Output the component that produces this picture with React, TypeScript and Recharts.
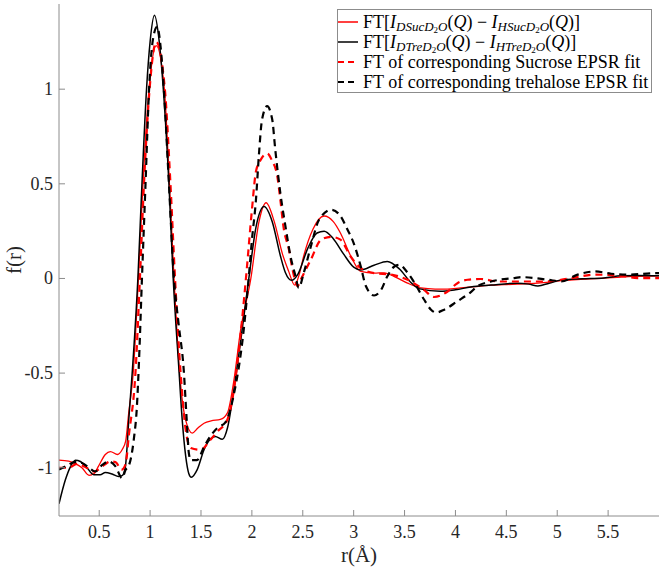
import { LineChart, Line, XAxis, YAxis, Legend } from "recharts";

// FT of the measured difference functions and the EPSR fits, f(r) against r (Å)
const sucExpR = [0.105, 0.2, 0.27, 0.33, 0.4, 0.45, 0.495, 0.56, 0.61, 0.68, 0.725, 0.76, 0.79, 0.834, 0.885, 0.93, 0.99, 1.06, 1.14, 1.19, 1.235, 1.29, 1.35, 1.414, 1.47, 1.53, 1.6, 1.69, 1.76, 1.82, 1.89, 1.99, 2.07, 2.14, 2.22, 2.3, 2.36, 2.42, 2.47, 2.51, 2.6, 2.71, 2.8, 2.87, 2.97, 3.07, 3.2, 3.3, 3.4, 3.53, 3.66, 3.8, 3.92, 4.05, 4.25, 4.48, 4.81, 5.04, 5.46, 5.7, 6.0];
const sucExpF = [-0.96, -0.965, -0.98, -1.0, -1.04, -1.03, -0.99, -0.93, -0.915, -0.93, -0.905, -0.86, -0.71, -0.5, 0.0, 0.5, 1.0, 1.23, 1.0, 0.5, 0.0, -0.5, -0.75, -0.817, -0.79, -0.765, -0.752, -0.745, -0.71, -0.55, -0.27, 0.0, 0.3, 0.4, 0.3, 0.13, 0.04, -0.035, 0.03, 0.12, 0.26, 0.33, 0.3, 0.24, 0.12, 0.037, 0.028, 0.03, 0.01, -0.025, -0.05, -0.056, -0.056, -0.05, -0.04, -0.033, -0.025, -0.012, 0.002, 0.01, 0.014];

const treExpR = [0.105, 0.167, 0.217, 0.266, 0.315, 0.38, 0.446, 0.51, 0.56, 0.627, 0.69, 0.725, 0.757, 0.774, 0.79, 0.824, 0.88, 0.92, 0.965, 1.0, 1.043, 1.09, 1.13, 1.185, 1.227, 1.283, 1.316, 1.35, 1.38, 1.405, 1.463, 1.53, 1.59, 1.64, 1.71, 1.76, 1.82, 1.89, 1.97, 2.04, 2.12, 2.2, 2.28, 2.33, 2.39, 2.45, 2.55, 2.64, 2.71, 2.8, 2.9, 3.0, 3.07, 3.2, 3.33, 3.45, 3.56, 3.65, 3.85, 4.0, 4.15, 4.35, 4.61, 4.72, 4.81, 4.92, 5.04, 5.25, 5.46, 5.63, 5.8, 6.0];
const treExpF = [-1.19, -1.065, -0.995, -0.96, -0.967, -1.0, -1.037, -1.037, -1.025, -1.033, -1.046, -1.042, -0.995, -0.89, -0.75, -0.5, 0.0, 0.5, 1.0, 1.25, 1.39, 1.25, 1.0, 0.5, 0.0, -0.48, -0.75, -0.94, -1.03, -1.05, -1.01, -0.905, -0.85, -0.835, -0.85, -0.79, -0.6, -0.33, 0.0, 0.27, 0.38, 0.3, 0.12, 0.03, -0.01, 0.02, 0.16, 0.24, 0.25, 0.21, 0.13, 0.06, 0.045, 0.07, 0.09, 0.05, -0.02, -0.055, -0.068, -0.06, -0.045, -0.035, -0.025, -0.03, -0.04, -0.025, -0.008, -0.002, 0.003, 0.014, 0.016, 0.014];

const sucFitR = [0.105, 0.2, 0.28, 0.36, 0.45, 0.55, 0.61, 0.66, 0.72, 0.76, 0.79, 0.856, 0.9, 0.94, 0.995, 1.06, 1.145, 1.2, 1.245, 1.3, 1.35, 1.4, 1.5, 1.58, 1.66, 1.76, 1.82, 1.89, 1.95, 2.0, 2.04, 2.08, 2.15, 2.2, 2.25, 2.28, 2.31, 2.365, 2.4, 2.45, 2.48, 2.58, 2.68, 2.78, 2.87, 2.97, 3.07, 3.2, 3.37, 3.53, 3.69, 3.79, 3.92, 4.02, 4.12, 4.25, 4.42, 4.65, 4.88, 5.14, 5.37, 5.63, 5.79, 6.0];
const sucFitF = [-1.0, -1.0, -0.98, -0.995, -1.02, -0.985, -0.967, -0.97, -1.01, -0.98, -0.835, -0.5, 0.0, 0.5, 1.0, 1.25, 1.0, 0.5, 0.0, -0.5, -0.8, -0.896, -0.905, -0.86, -0.81, -0.745, -0.6, -0.29, 0.05, 0.36, 0.565, 0.62, 0.66, 0.62, 0.54, 0.415, 0.275, 0.15, 0.046, -0.04, -0.007, 0.1, 0.205, 0.22, 0.205, 0.116, 0.055, 0.028, 0.02, -0.007, -0.06, -0.098, -0.07, -0.025, -0.007, -0.003, -0.016, -0.016, -0.016, 0.002, 0.02, 0.014, 0.002, 0.002];

const treFitR = [0.105, 0.18, 0.26, 0.33, 0.4, 0.46, 0.53, 0.59, 0.66, 0.725, 0.76, 0.79, 0.84, 0.87, 0.89, 0.92, 0.955, 0.99, 1.03, 1.07, 1.1, 1.135, 1.185, 1.233, 1.28, 1.33, 1.36, 1.38, 1.4, 1.46, 1.53, 1.59, 1.66, 1.74, 1.82, 1.92, 1.97, 2.0, 2.04, 2.07, 2.1, 2.15, 2.2, 2.23, 2.28, 2.33, 2.38, 2.43, 2.46, 2.51, 2.58, 2.66, 2.78, 2.87, 2.94, 3.0, 3.07, 3.12, 3.2, 3.27, 3.33, 3.4, 3.45, 3.53, 3.6, 3.69, 3.76, 3.81, 3.89, 4.02, 4.14, 4.22, 4.35, 4.48, 4.58, 4.65, 4.91, 5.04, 5.2, 5.37, 5.53, 5.7, 5.96, 6.0];
const treFitF = [-1.01, -0.99, -0.97, -0.975, -1.0, -1.02, -0.985, -0.967, -0.993, -1.055, -1.01, -0.99, -0.85, -0.68, -0.45, 0.0, 0.5, 1.0, 1.27, 1.33, 1.24, 1.0, 0.5, 0.01, -0.24, -0.48, -0.75, -0.92, -0.96, -0.96, -0.89, -0.835, -0.79, -0.76, -0.62, -0.27, 0.01, 0.2, 0.415, 0.66, 0.84, 0.91, 0.84, 0.68, 0.45, 0.275, 0.116, 0.01, -0.05, 0.03, 0.17, 0.31, 0.363, 0.33, 0.257, 0.187, 0.063, -0.04, -0.09, -0.06, 0.01, 0.063, 0.072, 0.03, -0.025, -0.11, -0.165, -0.18, -0.165, -0.12, -0.077, -0.04, -0.016, -0.003, 0.002, 0.007, -0.007, -0.016, 0.02, 0.037, 0.025, 0.02, 0.028, 0.028];

const xTicks = [0.5, 1, 1.5, 2, 2.5, 3, 3.5, 4, 4.5, 5, 5.5];
const yTicks = [-1, -0.5, 0, 0.5, 1];

const toPoints = (r: number[], f: number[]) => r.map((v, i) => ({ r: v, f: f[i] }));

const AXIS = "#8c8c8c";
const INK = "#262626";
const FONT = "'Liberation Serif', 'Times New Roman', serif";
const X_DOMAIN: [number, number] = [0.105, 6.0];
const Y_DOMAIN: [number, number] = [-1.255, 1.45];

const BottomTick = ({ x, y, payload }: any) => (
  <g>
    <line x1={x} x2={x} y1={y} y2={y - 6} stroke={AXIS} />
    <text x={x} y={y + 22} textAnchor="middle" fontSize={18} fontFamily={FONT} fill={INK}>
      {String(payload.value)}
    </text>
  </g>
);

const TopTick = ({ x, y }: any) => <line x1={x} x2={x} y1={y} y2={y + 6} stroke={AXIS} />;

const LeftTick = ({ x, y, payload }: any) => (
  <g>
    <line x1={x} x2={x + 6} y1={y} y2={y} stroke={AXIS} />
    <text x={x - 6} y={y} textAnchor="end" dominantBaseline="central" fontSize={18} fontFamily={FONT} fill={INK}>
      {String(payload.value)}
    </text>
  </g>
);

const RightTick = ({ x, y }: any) => <line x1={x} x2={x - 6} y1={y} y2={y} stroke={AXIS} />;

const Sample = ({ color, dashed }: { color: string; dashed?: boolean }) => (
  <svg width={20} height={6} style={{ marginRight: 5, flex: "none" }}>
    <line x1={0} x2={20} y1={3} y2={3} stroke={color} strokeWidth={dashed ? 2 : 1.5} strokeDasharray={dashed ? "6 4" : undefined} />
  </svg>
);

const sub = { fontSize: 13, lineHeight: "10px", fontStyle: "italic", position: "relative" as const, top: 3, display: "inline-block" };
const subsub = { fontSize: 9, lineHeight: "8px", fontStyle: "normal", position: "relative" as const, top: 2, display: "inline-block" };

const Diff = ({ name }: { name: string }) => (
  <span style={{ lineHeight: "16px" }}>
    FT[<i>I</i>
    <span style={sub}>
      D{name}D<span style={subsub}>2</span>O
    </span>
    (<i>Q</i>) − <i>I</i>
    <span style={sub}>
      H{name}D<span style={subsub}>2</span>O
    </span>
    (<i>Q</i>)]
  </span>
);

const row = { display: "flex", alignItems: "center", height: 20, lineHeight: "16px", whiteSpace: "nowrap" as const, overflow: "visible" };

const LegendBox = () => (
  <div
    style={{
      border: `1px solid ${AXIS}`,
      background: "#fff",
      boxSizing: "border-box",
      width: 315,
      height: 84,
      paddingTop: 2,
      fontFamily: FONT,
      fontSize: 18,
      color: "#000",
    }}
  >
    <div style={row}>
      <Sample color="#ff0000" />
      <Diff name="Suc" />
    </div>
    <div style={row}>
      <Sample color="#000000" />
      <Diff name="Tre" />
    </div>
    <div style={row}>
      <Sample color="#ff0000" dashed />
      <span>FT of corresponding Sucrose EPSR fit</span>
    </div>
    <div style={row}>
      <Sample color="#000000" dashed />
      <span>FT of corresponding trehalose EPSR fit</span>
    </div>
  </div>
);

export default function App() {
  return (
    <div style={{ position: "absolute", left: 0, top: 0, background: "#fff" }}>
      <LineChart width={666} height={570} margin={{ top: 4, right: 7, bottom: 14, left: 9 }}>
        <XAxis
          type="number"
          dataKey="r"
          domain={X_DOMAIN}
          allowDataOverflow
          ticks={xTicks}
          interval={0}
          height={40}
          stroke={AXIS}
          tickLine={false}
          tickSize={0}
          tickMargin={0}
          tick={BottomTick}
          label={{
            content: () => (
              <text x={359} y={555} textAnchor="middle" dominantBaseline="central" fontSize={21} fontFamily={FONT} fill={INK}>
                r(Å)
              </text>
            ),
          }}
        />
        <XAxis
          xAxisId="top"
          orientation="top"
          type="number"
          dataKey="r"
          domain={X_DOMAIN}
          allowDataOverflow
          ticks={xTicks}
          interval={0}
          height={0}
          stroke={AXIS}
          tickLine={false}
          tickSize={0}
          tickMargin={0}
          tick={TopTick}
        />
        <YAxis
          type="number"
          domain={Y_DOMAIN}
          allowDataOverflow
          ticks={yTicks}
          interval={0}
          width={50}
          stroke={AXIS}
          tickLine={false}
          tickSize={0}
          tickMargin={0}
          tick={LeftTick}
          label={{
            content: () => (
              <text
                transform="translate(14,260) rotate(-90)"
                textAnchor="middle"
                dominantBaseline="central"
                fontSize={21}
                fontFamily={FONT}
                fill={INK}
              >
                f(r)
              </text>
            ),
          }}
        />
        <YAxis
          yAxisId="right"
          orientation="right"
          type="number"
          domain={Y_DOMAIN}
          allowDataOverflow
          ticks={yTicks}
          interval={0}
          width={0}
          stroke={AXIS}
          tickLine={false}
          tickSize={0}
          tickMargin={0}
          tick={RightTick}
        />
        <Legend
          layout="vertical"
          align="center"
          verticalAlign="middle"
          content={LegendBox}
          wrapperStyle={{ top: 9, left: 337, width: 315 }}
        />
        <Line data={toPoints(sucExpR, sucExpF)} dataKey="f" type="monotone" stroke="#ff0000" strokeWidth={1.3} dot={false} isAnimationActive={false} />
        <Line data={toPoints(treExpR, treExpF)} dataKey="f" type="monotone" stroke="#000000" strokeWidth={1.5} dot={false} isAnimationActive={false} />
        <Line data={toPoints(sucFitR, sucFitF)} dataKey="f" type="monotone" stroke="#ff0000" strokeWidth={2.2} strokeDasharray="7 5" dot={false} isAnimationActive={false} />
        <Line data={toPoints(treFitR, treFitF)} dataKey="f" type="monotone" stroke="#000000" strokeWidth={2.2} strokeDasharray="7 5" dot={false} isAnimationActive={false} />
      </LineChart>
    </div>
  );
}
